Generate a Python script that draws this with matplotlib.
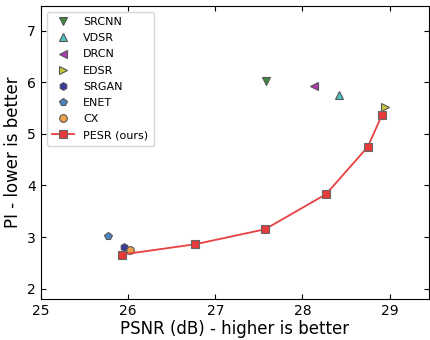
import matplotlib
matplotlib.use('Agg')
import matplotlib.pyplot as plt

# 各方法 (PSNR, PI)
methods = ['SRCNN', 'VDSR', 'DRCN', 'EDSR', 'SRGAN', 'ENET', 'CX']
psnr = [27.58, 28.42, 28.13, 28.95, 25.95, 25.77, 26.02]
pi = [6.02, 5.75, 5.93, 5.52, 2.80, 3.01, 2.75]
markers = ['v', '^', '<', '>', 'h', 'p', 'o']
colors = ['#3c8c3c', '#4cc4c4', '#b03cb0', '#c8c83a', '#3a3a9c', '#4a86c0', '#f0a048']

pesr_psnr = [25.93, 26.77, 27.57, 28.27, 28.75, 28.91]
pesr_pi = [2.66, 2.86, 3.15, 3.83, 4.75, 5.36]

fig = plt.figure(figsize=(4.3, 3.4), dpi=100)
ax = fig.add_axes([0.0953, 0.121, 0.902, 0.861])

for name, x, y, m, c in zip(methods, psnr, pi, markers, colors):
    ax.plot([x], [y], ls='none', marker=m, color=c, markersize=5.5,
            markeredgecolor='#555555', markeredgewidth=0.8, label=name)

ax.plot(pesr_psnr, pesr_pi, color='#e84040', lw=1.3, marker='s', markersize=5.5,
        markerfacecolor='#e83a3a', markeredgecolor='#666666', markeredgewidth=0.8,
        label='PESR (ours)')

ax.set_xlim(25, 29.45)
ax.set_ylim(1.8, 7.48)
ax.set_xticks([25, 26, 27, 28, 29])
ax.set_yticks([2, 3, 4, 5, 6, 7])
ax.tick_params(direction='in', top=True, right=True, labelsize=10)
ax.set_xlabel('PSNR (dB) - higher is better', fontsize=12, labelpad=2)
ax.set_ylabel('PI - lower is better', fontsize=12, labelpad=4)
ax.legend(loc='upper left', fontsize=8, handlelength=2, labelspacing=0.55,
          borderpad=0.5, handletextpad=0.8)

fig.savefig('out.png', dpi=100)
